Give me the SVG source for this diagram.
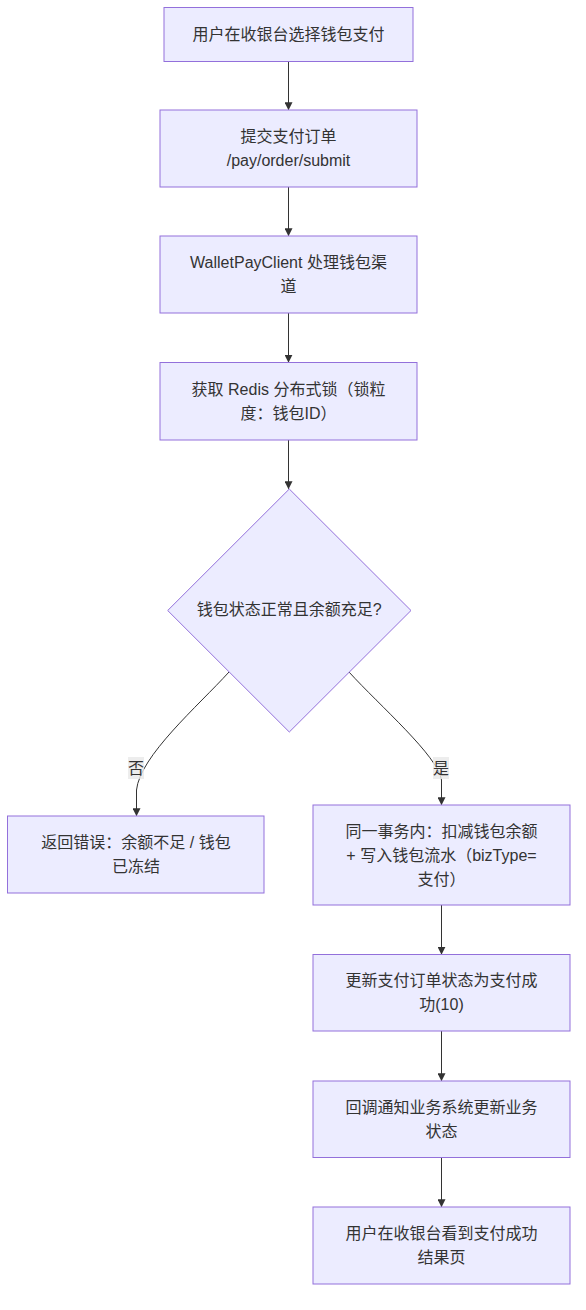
<svg xmlns="http://www.w3.org/2000/svg" width="586" height="1310" viewBox="0 0 586 1310">
<style>
.node rect,.node polygon{fill:#ECECFF;stroke:#9370DB;stroke-width:1}
text{font-family:"Liberation Sans","Noto Sans CJK SC",sans-serif;font-size:16px;fill:#333;text-anchor:middle;dominant-baseline:central}
.edge{fill:none;stroke:#333;stroke-width:1}
.lbl rect{fill:#e8e8e8;opacity:0.8}
</style>
<defs>
<marker id="arr" viewBox="0 0 10 10" refX="9" refY="5" markerWidth="8" markerHeight="8" markerUnits="userSpaceOnUse" orient="auto">
<path d="M0,0 L10,5 L0,10 z" fill="#333"/>
</marker>
</defs>
<rect width="586" height="1310" fill="#fff"/>
<g id="connectors">
<path class="edge" d="M288.5,61.5 L288.5,109.5" marker-end="url(#arr)"/>
<path class="edge" d="M288.5,187 L288.5,235.5" marker-end="url(#arr)"/>
<path class="edge" d="M288.5,313 L288.5,362" marker-end="url(#arr)"/>
<path class="edge" d="M288.5,440 L288.5,488.5" marker-end="url(#arr)"/>
<path class="edge" d="M229,672 C198,706 140,756 136.5,790 L136.5,815.5" marker-end="url(#arr)"/>
<path class="edge" d="M349,672 C380,706 438,756 441.5,780 L441.5,804.5" marker-end="url(#arr)"/>
<path class="edge" d="M441.5,905 L441.5,954" marker-end="url(#arr)"/>
<path class="edge" d="M441.5,1031 L441.5,1080.5" marker-end="url(#arr)"/>
<path class="edge" d="M441.5,1157.5 L441.5,1206.5" marker-end="url(#arr)"/>
<g class="lbl"><rect x="128" y="757" width="16" height="22"/><text x="136" y="768">否</text></g>
<g class="lbl"><rect x="433" y="757" width="16" height="22"/><text x="441" y="768">是</text></g>
</g>
<g id="n1" class="node"><rect x="164" y="7.5" width="249" height="54"/><text x="288.5" y="34.5">用户在收银台选择钱包支付</text></g>
<g id="n2" class="node"><rect x="160" y="110" width="257" height="77"/><text x="288.5" y="136.5">提交支付订单</text><text x="288.5" y="160.5">/pay/order/submit</text></g>
<g id="n3" class="node"><rect x="160" y="236" width="257" height="77"/><text x="288.5" y="262.5">WalletPayClient 处理钱包渠</text><text x="288.5" y="286.5">道</text></g>
<g id="n4" class="node"><rect x="160" y="362.5" width="257" height="77.5"/><text x="288.5" y="389.5">获取 Redis 分布式锁（锁粒</text><text x="288.5" y="413.5">度：钱包ID）</text></g>
<g id="n5" class="node"><polygon points="289.3,489 411,610.5 289.3,732 167.7,610.5"/><text x="289.3" y="609.5">钱包状态正常且余额充足?</text></g>
<g id="n6" class="node"><rect x="7.5" y="816" width="256.5" height="77"/><text x="136" y="842.5">返回错误：余额不足 / 钱包</text><text x="136" y="866.5">已冻结</text></g>
<g id="n7" class="node"><rect x="313" y="805" width="257" height="100"/><text x="441.5" y="831">同一事务内：扣减钱包余额</text><text x="441.5" y="855">+ 写入钱包流水（bizType=</text><text x="441.5" y="879">支付）</text></g>
<g id="n8" class="node"><rect x="313" y="954.5" width="257" height="76.5"/><text x="441.5" y="980.5">更新支付订单状态为支付成</text><text x="441.5" y="1004.5">功(10)</text></g>
<g id="n9" class="node"><rect x="313" y="1081" width="257" height="76.5"/><text x="441.5" y="1107">回调通知业务系统更新业务</text><text x="441.5" y="1131">状态</text></g>
<g id="n10" class="node"><rect x="313" y="1207" width="257" height="77"/><text x="441.5" y="1233.5">用户在收银台看到支付成功</text><text x="441.5" y="1257.5">结果页</text></g>
</svg>
